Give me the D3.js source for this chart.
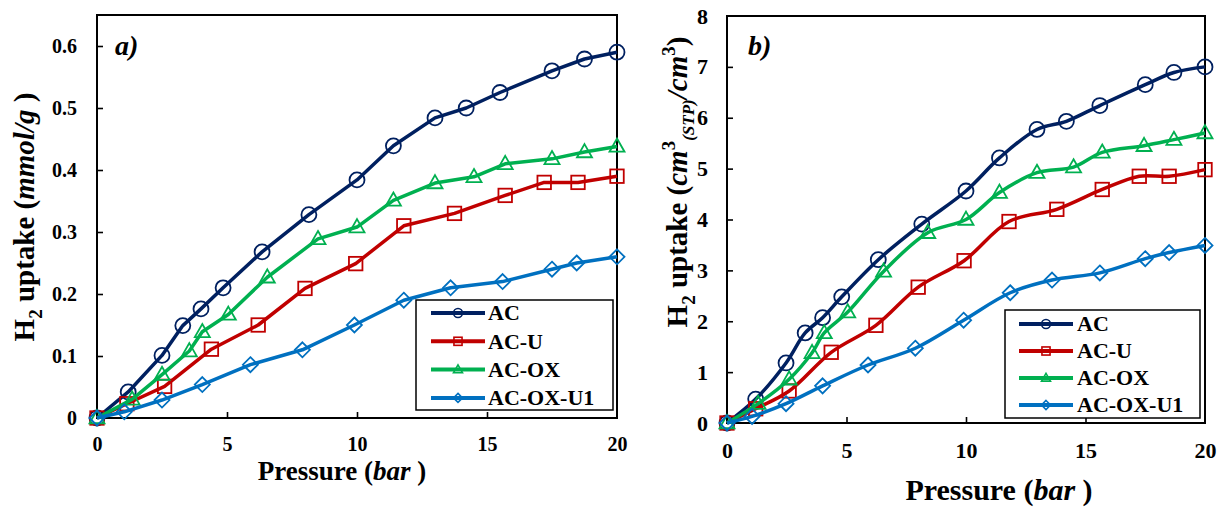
<!DOCTYPE html>
<html><head><meta charset="utf-8">
<script src="https://cdn.jsdelivr.net/npm/d3@7"></script>
<style>
body{margin:0;background:#fff}
svg{display:block}
text{font-family:"Liberation Serif","Times New Roman",serif;font-weight:bold;fill:#000}
</style>
</head><body><svg id="c" width="1224" height="510"></svg>
<script>
// ---------- DATA ----------
const seriesNames = ["AC", "AC-U", "AC-OX", "AC-OX-U1"];
const xTicks = [0, 5, 10, 15, 20];
const yTicksA = [0, 0.1, 0.2, 0.3, 0.4, 0.5, 0.6];
const yTickLabelsA = ["0", "0.1", "0.2", "0.3", "0.4", "0.5", "0.6"];
const yTicksB = [0, 1, 2, 3, 4, 5, 6, 7, 8];
const yTickLabelsB = ["0", "1", "2", "3", "4", "5", "6", "7", "8"];

// Panel a) uptake in mmol/g
const pA_AC = [0, 1.2, 2.5, 3.3, 4.0, 4.85, 6.35, 8.15, 10.0, 11.4, 13.0, 14.2, 15.5, 17.5, 18.75, 20];
const uA_AC = [0, 0.042, 0.101, 0.149, 0.176, 0.21, 0.268, 0.328, 0.384, 0.439, 0.484, 0.5, 0.525, 0.56, 0.579, 0.59];
const pA_ACU = [0, 1.15, 2.6, 4.4, 6.2, 8.0, 9.95, 11.8, 13.75, 15.7, 17.2, 18.5, 20];
const uA_ACU = [0, 0.023, 0.051, 0.111, 0.150, 0.209, 0.249, 0.31, 0.33, 0.359, 0.38, 0.38, 0.39];
const pA_ACOX = [0, 1.35, 2.5, 3.55, 4.05, 5.05, 6.55, 8.5, 10.0, 11.4, 13.0, 14.5, 15.7, 17.5, 18.75, 20];
const uA_ACOX = [0, 0.03, 0.07, 0.108, 0.139, 0.167, 0.227, 0.289, 0.308, 0.351, 0.379, 0.389, 0.41, 0.418, 0.429, 0.438];
const pA_ACOXU1 = [0, 1.05, 2.5, 4.05, 5.9, 7.9, 9.9, 11.8, 13.6, 15.6, 17.5, 18.45, 20];
const uA_ACOXU1 = [0, 0.01, 0.029, 0.054, 0.086, 0.11, 0.15, 0.19, 0.21, 0.22, 0.24, 0.25, 0.26];

// Panel b) uptake in cm3(STP)/cm3
const pB_AC = [0, 1.2, 2.47, 3.27, 4.0, 4.8, 6.33, 8.15, 10.0, 11.4, 12.97, 14.2, 15.6, 17.5, 18.7, 20];
const uB_AC = [0, 0.47, 1.18, 1.77, 2.07, 2.48, 3.21, 3.91, 4.56, 5.21, 5.77, 5.93, 6.24, 6.65, 6.89, 7.0];
const pB_ACU = [0, 1.2, 2.6, 4.36, 6.23, 8.0, 9.92, 11.8, 13.8, 15.7, 17.25, 18.5, 20];
const uB_ACU = [0, 0.28, 0.63, 1.39, 1.92, 2.67, 3.19, 3.96, 4.2, 4.59, 4.85, 4.85, 4.98];
const pB_ACOX = [0, 1.3, 2.6, 3.56, 4.07, 5.05, 6.55, 8.4, 10.0, 11.4, 12.97, 14.5, 15.7, 17.45, 18.7, 20];
const uB_ACOX = [0, 0.38, 0.86, 1.38, 1.77, 2.18, 2.98, 3.74, 4.0, 4.53, 4.92, 5.03, 5.32, 5.45, 5.57, 5.7];
const pB_ACOXU1 = [0, 1.05, 2.47, 4.0, 5.9, 7.88, 9.9, 11.85, 13.6, 15.6, 17.5, 18.5, 20];
const uB_ACOXU1 = [0, 0.13, 0.38, 0.73, 1.14, 1.47, 2.02, 2.56, 2.81, 2.95, 3.23, 3.35, 3.49];

// ---------- STYLE ----------
const colors = ["#002060", "#C00000", "#00B050", "#0070C0"];
const markers = ["circle", "square", "triangle", "diamond"];

const svg = d3.select("#c");

function zip(xs, ys) { return xs.map((x, i) => [x, ys[i]]); }

function drawMarker(g, type, cx, cy, s, color, sw) {
  if (type === "circle") {
    g.append("circle").attr("cx", cx).attr("cy", cy).attr("r", s)
      .attr("fill", "none").attr("stroke", color).attr("stroke-width", sw);
  } else if (type === "square") {
    g.append("rect").attr("x", cx - s * 0.9).attr("y", cy - s * 0.9)
      .attr("width", s * 1.8).attr("height", s * 1.8)
      .attr("fill", "none").attr("stroke", color).attr("stroke-width", sw);
  } else if (type === "triangle") {
    const h = s * 1.75, w = s * 2.0;
    g.append("path").attr("d", `M${cx},${cy - h * 0.6}L${cx + w / 2},${cy + h * 0.4}L${cx - w / 2},${cy + h * 0.4}Z`)
      .attr("fill", "none").attr("stroke", color).attr("stroke-width", sw);
  } else {
    const r = s * 1.0;
    g.append("path").attr("d", `M${cx},${cy - r}L${cx + r},${cy}L${cx},${cy + r}L${cx - r},${cy}Z`)
      .attr("fill", "none").attr("stroke", color).attr("stroke-width", sw);
  }
}

function panel(cfg) {
  const x = d3.scaleLinear().domain([0, 20]).range([cfg.left, cfg.right]);
  const y = d3.scaleLinear().domain(cfg.yDomain).range([cfg.bottom, cfg.top]);
  const g = svg.append("g");

  // axes (inside ticks)
  const ax = g.append("g").attr("transform", `translate(0,${cfg.bottom})`)
    .call(d3.axisBottom(x).tickValues(xTicks).tickFormat(d3.format("d"))
      .tickSizeInner(-6).tickSizeOuter(0).tickPadding(cfg.xPad));
  const ay = g.append("g").attr("transform", `translate(${cfg.left},0)`)
    .call(d3.axisLeft(y).tickValues(cfg.yTicks).tickFormat((d, i) => cfg.yLabels[i])
      .tickSizeInner(-6).tickSizeOuter(0).tickPadding(cfg.yPad));
  [ax, ay].forEach(a => {
    a.select(".domain").remove();
    a.selectAll(".tick line").attr("stroke", "#000").attr("stroke-width", 1.6);
    a.selectAll(".tick text").style("font-family", '"Liberation Serif","Times New Roman",serif')
      .style("font-weight", "bold").style("font-size", cfg.tickFont + "px").attr("fill", "#000");
  });
  ax.selectAll(".tick").filter(d => d === 0 || d === 20).select("line").remove();
  ay.selectAll(".tick").filter(d => d === 0 || d === cfg.yDomain[1]).select("line").remove();

  // box
  g.append("rect").attr("x", cfg.left).attr("y", cfg.top)
    .attr("width", cfg.right - cfg.left).attr("height", cfg.bottom - cfg.top)
    .attr("fill", "none").attr("stroke", "#000").attr("stroke-width", 2);

  // series
  const line = d3.line().x(d => x(d[0])).y(d => y(d[1])).curve(cfg.curve);
  cfg.series.forEach((s, i) => {
    const pts = zip(s[0], s[1]);
    g.append("path").datum(pts).attr("d", line).attr("fill", "none")
      .attr("stroke", colors[i]).attr("stroke-width", 3.5).attr("stroke-linejoin", "round");
    pts.forEach(p => drawMarker(g, markers[i], x(p[0]), y(p[1]), 7.5, colors[i], 1.8));
  });

  // legend
  const L = cfg.legend;
  g.append("rect").attr("x", L.x).attr("y", L.y).attr("width", L.w).attr("height", L.h)
    .attr("fill", "#fff").attr("stroke", "#000").attr("stroke-width", 1.5);
  seriesNames.forEach((n, i) => {
    const yy = L.y + L.first + i * L.step;
    g.append("line").attr("x1", L.x + L.lx1).attr("x2", L.x + L.lx2).attr("y1", yy).attr("y2", yy)
      .attr("stroke", colors[i]).attr("stroke-width", 4);
    drawMarker(g, markers[i], L.x + (L.lx1 + L.lx2) / 2, yy, 4.5, colors[i], 1.6);
    g.append("text").attr("x", L.x + L.tx).attr("y", yy).attr("dy", "0.34em")
      .style("font-size", "22px").text(n);
  });

  // panel label
  g.append("text").attr("x", cfg.labX).attr("y", 55).style("font-size", "28px")
    .style("font-style", "italic").text(cfg.label);

  // x title
  const xt = g.append("text").attr("x", cfg.xTitleX).attr("y", cfg.xTitleY)
    .attr("text-anchor", "middle").style("font-size", cfg.xTitleFont + "px");
  xt.append("tspan").text("Pressure (");
  xt.append("tspan").style("font-style", "italic").text("bar");
  xt.append("tspan").text(" )");
  return g;
}

panel({
  left: 97, right: 617, top: 15, bottom: 418, yDomain: [0, 0.65],
  yTicks: yTicksA, yLabels: yTickLabelsA, tickFont: 20, xPad: 19, yPad: 20,
  curve: d3.curveLinear,
  series: [[pA_AC, uA_AC], [pA_ACU, uA_ACU], [pA_ACOX, uA_ACOX], [pA_ACOXU1, uA_ACOXU1]],
  legend: { x: 416, y: 300, w: 197, h: 110, first: 13, step: 28.3, lx1: 15, lx2: 69, tx: 72 },
  label: "a)", labX: 115, xTitleX: 342, xTitleY: 480, xTitleFont: 27
});

panel({
  left: 727, right: 1205, top: 16, bottom: 423, yDomain: [0, 8],
  yTicks: yTicksB, yLabels: yTickLabelsB, tickFont: 22, xPad: 19, yPad: 19,
  curve: d3.curveCatmullRom.alpha(0.5),
  series: [[pB_AC, uB_AC], [pB_ACU, uB_ACU], [pB_ACOX, uB_ACOX], [pB_ACOXU1, uB_ACOXU1]],
  legend: { x: 1005, y: 310, w: 195, h: 108, first: 14, step: 27, lx1: 14, lx2: 68, tx: 72 },
  label: "b)", labX: 748, xTitleX: 999, xTitleY: 500, xTitleFont: 30
});

// y titles
const ytA = svg.append("text").attr("transform", "translate(34,217) rotate(-90)")
  .attr("text-anchor", "middle").style("font-size", "29px");
ytA.append("tspan").text("H");
ytA.append("tspan").attr("dy", 8).style("font-size", "19px").text("2");
ytA.append("tspan").attr("dy", -8).text(" uptake (");
ytA.append("tspan").style("font-style", "italic").text("mmol/g");
ytA.append("tspan").text(" )");

const ytB = svg.append("text").attr("transform", "translate(687,182) rotate(-90)")
  .attr("text-anchor", "middle").style("font-size", "29px");
ytB.append("tspan").text("H");
ytB.append("tspan").attr("dy", 8).style("font-size", "19px").text("2");
ytB.append("tspan").attr("dy", -8).text(" uptake (");
ytB.append("tspan").style("font-style", "italic").text("cm");
ytB.append("tspan").attr("dy", -12).style("font-size", "19px").text("3");
ytB.append("tspan").attr("dy", 19).style("font-size", "17px").style("font-style", "italic").text("(STP)");
ytB.append("tspan").attr("dy", -7).style("font-style", "italic").text("/cm");
ytB.append("tspan").attr("dy", -12).style("font-size", "19px").text("3");
ytB.append("tspan").attr("dy", 12).text(")");
</script>
</body></html>
